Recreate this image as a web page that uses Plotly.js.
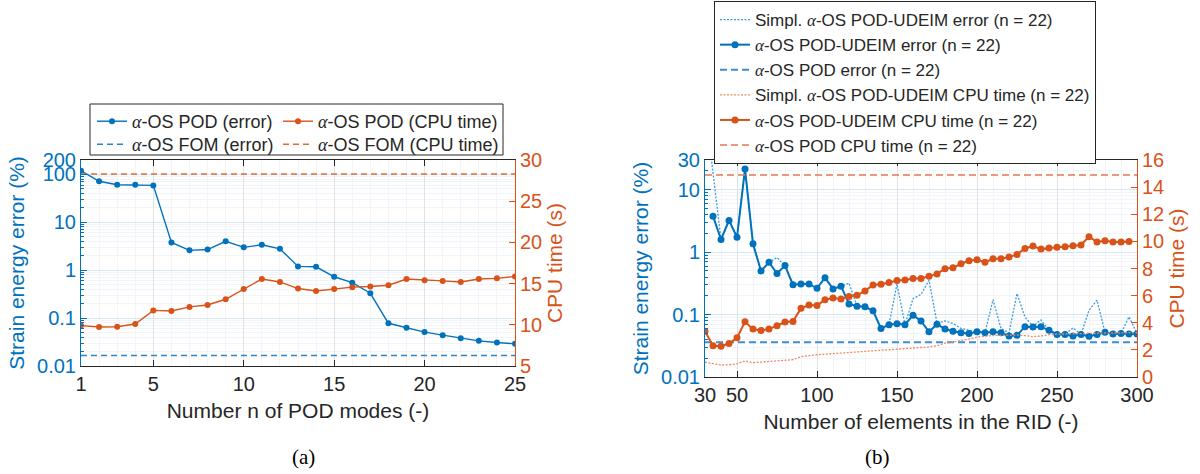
<!DOCTYPE html>
<html><head><meta charset="utf-8">
<script src="https://cdn.plot.ly/plotly-3.0.1.min.js"></script>
<style>html,body{margin:0;padding:0;background:#fff}#chart{width:1200px;height:474px}</style>
</head><body><div id="chart"></div>
<script>
// ---------- data: (a) POD modes ----------
const podModes = [1,2,3,4,5,6,7,8,9,10,11,12,13,14,15,16,17,18,19,20,21,22,23,24,25];
const podError = [120,72,61,61,59,3.8,2.6,2.7,4.0,3.0,3.4,2.8,1.2,1.18,0.73,0.55,0.33,0.078,0.063,0.051,0.044,0.038,0.0335,0.031,0.029];
const podCpu   = [9.9,9.73,9.77,10.1,11.75,11.68,12.17,12.4,13.1,14.34,15.56,15.2,14.4,14.1,14.34,14.57,14.65,14.8,15.56,15.4,15.33,15.2,15.56,15.64,15.87];
const fomErrorValue = 0.0165;
const fomCpuValue = 28.3;
const podTicks = [1,5,10,15,20,25];

// ---------- data: (b) RID elements ----------
const ridElements = [30,35,40,45,50,55,60,65,70,75,80,85,90,95,100,105,110,115,120,125,130,135,140,145,150,155,160,165,170,175,180,185,190,195,200,205,210,215,220,225,230,235,240,245,250,255,260,265,270,275,280,285,290,295,300];
const simplUdeimError = [220,null,1.6,3.22,1.74,21.5,1.36,0.50,0.69,0.82,0.61,0.30,0.31,0.31,0.264,0.39,0.258,0.285,0.32,0.136,0.134,0.115,0.06,0.069,0.31,0.069,0.18,0.21,0.356,0.073,0.079,0.072,0.06,0.056,0.053,0.051,0.174,0.06,0.051,0.217,0.091,0.065,0.082,0.056,0.05,0.048,0.061,0.048,0.117,0.17,0.052,0.049,0.05,0.092,0.05];
const udeimError = [null,3.78,1.6,3.22,1.74,21.5,1.36,0.50,0.69,0.455,0.61,0.30,0.31,0.31,0.264,0.39,0.258,0.285,0.148,0.136,0.134,0.115,0.06,0.069,0.071,0.069,0.098,0.079,0.053,0.07,0.059,0.054,0.051,0.05,0.053,0.051,0.053,0.051,0.0455,0.0465,0.064,0.063,0.064,0.056,0.048,0.048,0.0455,0.048,0.045,0.048,0.052,0.049,0.05,0.049,0.049];
const simplUdeimCpu = [1.09,0.96,0.88,0.90,0.98,1.18,1.06,1.10,1.14,1.18,1.22,1.28,1.50,1.58,1.64,1.68,1.72,1.77,1.80,1.83,1.86,1.90,1.93,1.97,2.02,2.06,2.10,2.16,2.22,2.30,2.50,2.58,2.68,2.80,2.95,3.02,3.06,3.08,3.10,3.10,3.05,2.98,3.02,3.12,3.16,3.18,3.20,3.20,3.22,3.22,3.24,3.24,3.26,3.26,3.28];
const udeimCpu = [3.38,2.30,2.27,2.47,2.89,4.07,3.53,3.43,3.53,3.78,4.05,4.10,5.06,5.31,5.28,5.70,5.83,5.75,5.93,6.02,6.35,6.79,6.84,6.96,7.11,7.16,7.26,7.26,7.43,7.60,7.98,8.05,8.35,8.57,8.64,8.47,8.72,8.72,8.84,9.04,9.48,9.65,9.43,9.51,9.56,9.60,9.68,9.73,10.35,9.95,10.05,9.95,9.95,10.0,null];
const podErrorRidValue = 0.036;
const podCpuRidValue = 14.9;
const ridTicks = [30,50,100,150,200,250,300];

// ---------- styling ----------
const W = 1200, H = 474;
const px = v => v / W, py = v => 1 - v / H;
const BLUE = '#0072BD', ORANGE = '#D95319', AX = '#262626';
const FONT = 'Liberation Sans, Arial, sans-serif';
const A = '<span style="font-family:Liberation Serif;font-style:italic">α</span>';

const podRange = [podModes[0], podModes[podModes.length - 1]];
const ridRange = [ridElements[0], ridElements[ridElements.length - 1]];

const traces = [
  {x: podModes, y: podError, xaxis: 'x', yaxis: 'y', mode: 'lines+markers', name: A + '-OS POD (error)',
   line: {color: BLUE, width: 1.4}, marker: {color: BLUE, size: 6}, legend: 'legend'},
  {x: podModes, y: podCpu, xaxis: 'x', yaxis: 'y2', mode: 'lines+markers', name: A + '-OS POD (CPU time)',
   line: {color: ORANGE, width: 1.4}, marker: {color: ORANGE, size: 6}, legend: 'legend2'},
  {x: podRange, y: [fomErrorValue, fomErrorValue], xaxis: 'x', yaxis: 'y', mode: 'lines', name: A + '-OS FOM (error)',
   line: {color: '#2a86cc', width: 1.5, dash: '6px,4px'}, legend: 'legend3'},
  {x: podRange, y: [fomCpuValue, fomCpuValue], xaxis: 'x', yaxis: 'y2', mode: 'lines', name: A + '-OS FOM (CPU time)',
   line: {color: '#de6a3c', width: 1.5, dash: '6px,4px'}, legend: 'legend4'},

  {x: ridElements, y: simplUdeimError, xaxis: 'x2', yaxis: 'y3', mode: 'lines', connectgaps: true,
   name: 'Simpl. ' + A + '-OS POD-UDEIM error (n = 22)',
   line: {color: '#3b9ae0', width: 1.3, dash: '2px,1.5px'}, legend: 'legend5'},
  {x: ridElements, y: udeimError, xaxis: 'x2', yaxis: 'y3', mode: 'lines+markers',
   name: A + '-OS POD-UDEIM error (n = 22)',
   line: {color: BLUE, width: 2}, marker: {color: BLUE, size: 7}, legend: 'legend5'},
  {x: ridRange, y: [podErrorRidValue, podErrorRidValue], xaxis: 'x2', yaxis: 'y3', mode: 'lines',
   name: A + '-OS POD error (n = 22)',
   line: {color: '#3a8fd3', width: 2, dash: '7px,4px'}, legend: 'legend5'},
  {x: ridElements, y: simplUdeimCpu, xaxis: 'x2', yaxis: 'y4', mode: 'lines',
   name: 'Simpl. ' + A + '-OS POD-UDEIM CPU time (n = 22)',
   line: {color: '#ec8a62', width: 1.3, dash: '2px,1.5px'}, legend: 'legend5'},
  {x: ridElements, y: udeimCpu, xaxis: 'x2', yaxis: 'y4', mode: 'lines+markers',
   name: A + '-OS POD-UDEIM CPU time (n = 22)',
   line: {color: ORANGE, width: 2}, marker: {color: ORANGE, size: 7}, legend: 'legend5'},
  {x: ridRange, y: [podCpuRidValue, podCpuRidValue], xaxis: 'x2', yaxis: 'y4', mode: 'lines',
   name: A + '-OS POD CPU time (n = 22)',
   line: {color: '#e47a50', width: 1.5, dash: '7px,4px'}, legend: 'legend5'}
];

const tickFont = c => ({family: FONT, size: 20, color: c});
const titleFont = c => ({family: FONT, size: 21, color: c});

function xAxis(dom, range, ticks, title, anchor, minorDtick) {
  return {
    domain: dom, range: range, anchor: anchor, tickmode: 'array', tickvals: ticks,
    ticktext: ticks.map(String), showline: true, linecolor: AX, linewidth: 1, mirror: 'ticks',
    ticks: 'inside', ticklen: 6, tickcolor: AX, tickfont: tickFont(AX),
    showgrid: true, gridcolor: '#e2e2e2', zeroline: false,
    minor: {tickmode: 'linear', tick0: 0, dtick: minorDtick, showgrid: true, gridcolor: '#f4f4f4', ticks: ''},
    title: {text: title, font: titleFont(AX), standoff: 9}
  };
}
function logAxis(dom, range, ticks, anchor) {
  return {
    domain: dom, type: 'log', range: range, anchor: anchor, tickmode: 'array', tickvals: ticks,
    ticktext: ticks.map(String), showline: true, linecolor: BLUE, linewidth: 1,
    ticks: 'inside', ticklen: 6, tickcolor: BLUE, tickfont: tickFont(BLUE),
    showgrid: true, gridcolor: '#d8e6f2', zeroline: false,
    minor: {dtick: 'D1', ticks: 'inside', ticklen: 3, tickcolor: BLUE, showgrid: true, gridcolor: '#f1f5f9'},
    title: {text: 'Strain energy error (%)', font: titleFont(BLUE), standoff: 6}
  };
}
function cpuAxis(over, anchor, range, dtick) {
  return {
    overlaying: over, side: 'right', anchor: anchor, range: range, tick0: 0, dtick: dtick,
    showline: true, linecolor: ORANGE, linewidth: 1, ticks: 'inside', ticklen: 6, tickcolor: ORANGE,
    tickfont: tickFont(ORANGE), showgrid: false, zeroline: false,
    title: {text: 'CPU time (s)', font: titleFont(ORANGE), standoff: 6}
  };
}

const itemLegend = (x, y) => ({
  x: px(x), y: py(y), xanchor: 'left', yanchor: 'top', bgcolor: 'rgba(0,0,0,0)', borderwidth: 0,
  font: {family: FONT, size: 18, color: AX}, itemclick: false
});

const layout = {
  width: W, height: H, margin: {l: 0, r: 0, t: 0, b: 0}, paper_bgcolor: '#fff', plot_bgcolor: '#fff',
  showlegend: true, hovermode: false, font: {family: FONT, color: AX},
  xaxis: xAxis([px(81), px(515)], podRange, podTicks, 'Number n of POD modes (-)', 'y', 1),
  yaxis: logAxis([py(366), py(160)], [-2, Math.log10(200)], [0.01, 0.1, 1, 10, 100, 200], 'x'),
  yaxis2: cpuAxis('y', 'x', [5, 30], 5),
  xaxis2: xAxis([px(705), px(1137)], ridRange, ridTicks, 'Number of elements in the RID (-)', 'y3', 10),
  yaxis3: logAxis([py(377), py(160)], [-2, Math.log10(30)], [0.01, 0.1, 1, 10, 30], 'x2'),
  yaxis4: cpuAxis('y3', 'x2', [0, 16], 2),
  legend: itemLegend(92, 103),
  legend2: itemLegend(278, 103),
  legend3: itemLegend(92, 126),
  legend4: itemLegend(278, 126),
  legend5: {x: px(714), y: py(1), xanchor: 'left', yanchor: 'top', bgcolor: '#fff', bordercolor: AX, borderwidth: 1,
            font: {family: FONT, size: 17, color: AX}, itemclick: false, tracegroupgap: 0},
  shapes: [{type: 'rect', xref: 'paper', yref: 'paper', x0: px(90), x1: px(503), y0: py(155), y1: py(104),
            line: {color: AX, width: 1}, fillcolor: 'rgba(0,0,0,0)'}],
  annotations: [
    {text: '(a)', xref: 'paper', yref: 'paper', x: px(290), y: py(457), yanchor: 'middle', showarrow: false,
     font: {family: 'Liberation Serif, Times New Roman, serif', size: 21, color: '#000'}},
    {text: '(b)', xref: 'paper', yref: 'paper', x: px(892), y: py(457), yanchor: 'middle', showarrow: false,
     font: {family: 'Liberation Serif, Times New Roman, serif', size: 21, color: '#000'}}
  ]
};

Plotly.newPlot('chart', traces, layout, {staticPlot: true, displayModeBar: false});
</script></body></html>
